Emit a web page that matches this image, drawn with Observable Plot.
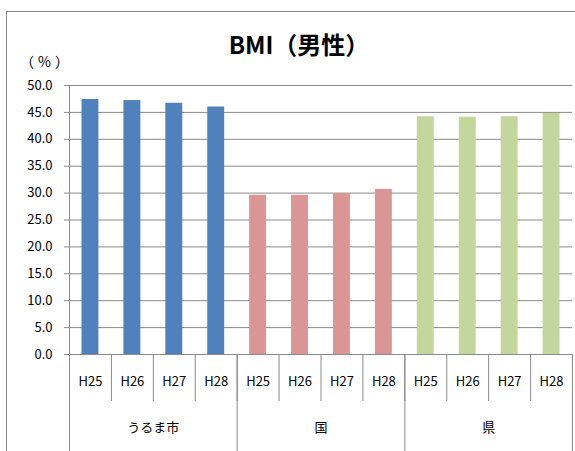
<!DOCTYPE html>
<html><head><meta charset="utf-8">
<script src="https://cdn.jsdelivr.net/npm/d3@7"></script>
<script src="https://cdn.jsdelivr.net/npm/@observablehq/plot@0.6"></script>
<style>
body{margin:0;background:#fff;font-family:"Noto Sans CJK JP",sans-serif;}
#wrap{position:relative;width:575px;height:451px;overflow:hidden;}
#frame{position:absolute;left:6px;top:11px;width:620px;height:520px;border:1px solid #8a8a8a;box-sizing:border-box;}
#title{position:absolute;left:0;width:598px;top:27px;text-align:center;font-weight:bold;font-size:24px;line-height:34px;color:#000;}
#unit{position:absolute;left:20px;top:51px;font-size:14px;color:#000;letter-spacing:4px;}
#chart{position:absolute;left:0;top:0;}
</style></head>
<body><div id="wrap"><div id="frame"></div><div id="title">BMI（男性）</div><div id="unit">（%）</div><div id="chart"></div></div>
<script>
const groups = ["うるま市", "国", "県"];
const years = ["H25", "H26", "H27", "H28"];
const uruma = [47.4, 47.2, 46.7, 46.0];
const kuni = [29.6, 29.6, 29.9, 30.7];
const ken = [44.2, 44.1, 44.2, 44.8];
const colors = ["#4F81BD", "#D99694", "#C3D69B"];
const yTicks = [0, 5, 10, 15, 20, 25, 30, 35, 40, 45, 50];

const series = [uruma, kuni, ken];
const data = [];
series.forEach((vals, g) => vals.forEach((v, j) => data.push({i: g * 4 + j, group: groups[g], year: years[j], value: v, color: colors[g]})));
const n = data.length;
const boundaries = d3.range(0, n + 1);
const groupBounds = d3.range(0, n + 1, 4);
const centers = data.map(d => d.i + 0.5);
const groupCenters = groups.map((g, k) => k * 4 + 2);
const gridC = "#8a8a8a";
const fnt = "Noto Sans CJK JP";

const plot = Plot.plot({
  width: 575, height: 451,
  marginTop: 85, marginBottom: 97, marginLeft: 69, marginRight: 3,
  style: {fontFamily: fnt, fontSize: "13px", color: "#000", background: "transparent"},
  x: {domain: [0, n], label: null},
  y: {domain: [0, 50], label: null},
  marks: [
    Plot.gridY(yTicks, {stroke: gridC, strokeOpacity: 1}),
    Plot.axisY(yTicks, {label: null, tickSize: 5, tickPadding: 12, stroke: gridC, tickFormat: d => d.toFixed(1), fontSize: 13, fill: "#000"}),
    Plot.rectY(data, {x1: "i", x2: d => d.i + 1, y: "value", fill: "color", insetLeft: 12.5, insetRight: 12.5}),
    Plot.ruleX([0], {stroke: gridC}),
    Plot.ruleY([0], {stroke: gridC}),
    Plot.axisX(boundaries, {label: null, tickSize: 47, tickFormat: () => "", stroke: gridC}),
    Plot.axisX(groupBounds, {label: null, tickSize: 97, tickFormat: () => "", stroke: gridC}),
    Plot.axisX(centers, {label: null, tickSize: 0, tickPadding: 22, tickFormat: d => years[Math.floor(d) % 4], fontSize: 13, fill: "#000"}),
    Plot.axisX(groupCenters, {label: null, tickSize: 0, tickPadding: 68, tickFormat: d => groups[Math.floor(d / 4)], fontSize: 13, fill: "#000"})
  ]
});
document.getElementById("chart").appendChild(plot);
</script></body></html>
